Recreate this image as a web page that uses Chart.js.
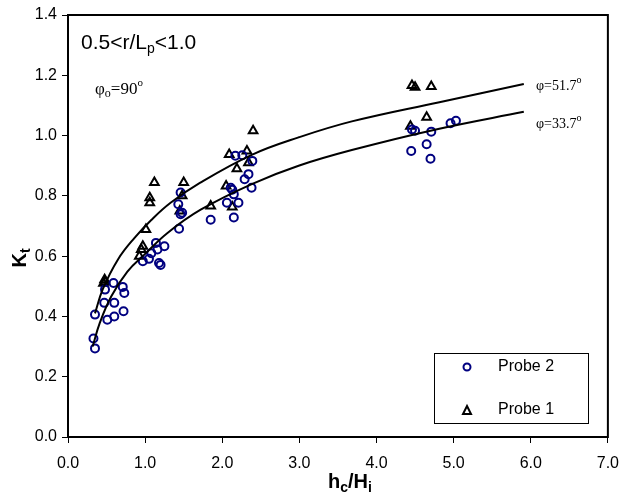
<!DOCTYPE html>
<html>
<head>
<meta charset="utf-8">
<script src="https://cdn.jsdelivr.net/npm/chart.js@4.4.1/dist/chart.umd.min.js"></script>
<style>
  html, body { margin: 0; padding: 0; background: #fff; }
  #wrap { width: 630px; height: 495px; }
</style>
</head>
<body>
<div id="wrap"><canvas id="kt"></canvas></div>
<script>
// Probe 2 (circles)
const probe2X = [0.35, 0.33, 0.35, 0.51, 0.60, 0.72, 0.47, 0.60, 0.48, 0.59, 0.71, 0.73,
  0.97, 1.05, 1.18, 1.20, 1.08, 1.14, 1.25, 1.16, 1.44, 1.46, 1.48, 1.43, 1.46,
  1.85, 2.17, 2.11, 2.15, 2.06, 2.21, 2.15, 2.39, 2.34, 2.29, 2.38, 2.13, 2.26,
  4.50, 4.71, 4.45, 4.65, 4.70, 4.96, 5.03, 4.46];
const probe2Y = [0.406, 0.327, 0.294, 0.389, 0.400, 0.417, 0.445, 0.445, 0.489, 0.511, 0.498, 0.478,
  0.583, 0.591, 0.577, 0.571, 0.610, 0.644, 0.633, 0.622, 0.691, 0.739, 0.744, 0.772, 0.811,
  0.721, 0.933, 0.827, 0.805, 0.777, 0.777, 0.728, 0.916, 0.872, 0.855, 0.827, 0.820, 0.935,
  1.016, 1.013, 0.949, 0.971, 0.923, 1.041, 1.049, 1.020];

// Probe 1 (triangles)
const probe1X = [0.46, 0.475, 0.48, 0.95, 0.97, 0.925, 1.01, 1.06, 1.06, 1.12, 1.50, 1.48, 1.45,
  1.85, 2.05, 2.13, 2.09, 2.32, 2.34, 2.19, 2.40, 4.46, 4.50, 4.71, 4.65, 4.44];
const probe1Y = [0.510, 0.522, 0.515, 0.622, 0.633, 0.600, 0.688, 0.777, 0.794, 0.844, 0.844, 0.800, 0.750,
  0.766, 0.833, 0.763, 0.937, 0.949, 0.910, 0.890, 1.016, 1.166, 1.160, 1.163, 1.061, 1.031];

// fitted curves
const curveUpX = [0.35, 0.45, 0.65, 0.86, 1.08, 1.33, 1.71, 2.39, 2.99, 3.68, 4.80, 5.91];
const curveUpY = [0.41, 0.49, 0.59, 0.66, 0.72, 0.777, 0.843, 0.937, 0.994, 1.047, 1.110, 1.171];
const curveLoX = [0.32, 0.41, 0.56, 0.77, 0.99, 1.29, 1.72, 2.39, 2.99, 3.68, 4.80, 5.91];
const curveLoY = [0.30, 0.377, 0.466, 0.549, 0.605, 0.677, 0.754, 0.840, 0.900, 0.952, 1.022, 1.079];

const toPts = (xs, ys) => xs.map((x, i) => ({ x: x, y: ys[i] }));

// draw a row of text pieces, each with its own font and vertical shift
function drawRuns(ctx, x, y, runs) {
  runs.forEach(r => {
    ctx.font = r.font;
    ctx.fillText(r.t, x, y + (r.dy || 0));
    x += ctx.measureText(r.t).width;
  });
  return x;
}
function runsWidth(ctx, runs) {
  let w = 0;
  runs.forEach(r => { ctx.font = r.font; w += ctx.measureText(r.t).width; });
  return w;
}

const extras = {
  id: 'extras',
  afterDraw(chart) {
    const ctx = chart.ctx;
    const a = chart.chartArea;
    ctx.save();
    // frame
    ctx.strokeStyle = '#000';
    ctx.lineWidth = 2;
    ctx.strokeRect(a.left, a.top, a.right - a.left, a.bottom - a.top);

    ctx.fillStyle = '#000';
    ctx.textBaseline = 'alphabetic';
    const sans = '"Liberation Sans", Arial, sans-serif';
    const serif = '"Liberation Serif", "Times New Roman", serif';

    drawRuns(ctx, 81, 49, [
      { t: '0.5<r/L', font: '21px ' + sans },
      { t: 'p', font: '14px ' + sans, dy: 4 },
      { t: '<1.0', font: '21px ' + sans }
    ]);
    drawRuns(ctx, 95, 94, [
      { t: 'φ', font: '17px ' + serif },
      { t: 'o', font: '12px ' + serif, dy: 3 },
      { t: '=90', font: '17px ' + serif },
      { t: 'o', font: '11px ' + serif, dy: -8 }
    ]);
    drawRuns(ctx, 536, 90, [
      { t: 'φ=51.7', font: '14px ' + serif },
      { t: 'o', font: '10px ' + serif, dy: -7 }
    ]);
    drawRuns(ctx, 536, 128, [
      { t: 'φ=33.7', font: '14px ' + serif },
      { t: 'o', font: '10px ' + serif, dy: -7 }
    ]);

    // axis titles
    const xt = [
      { t: 'h', font: 'bold 20px ' + sans },
      { t: 'c', font: 'bold 14px ' + sans, dy: 4 },
      { t: '/H', font: 'bold 20px ' + sans },
      { t: 'i', font: 'bold 14px ' + sans, dy: 4 }
    ];
    drawRuns(ctx, 350 - runsWidth(ctx, xt) / 2, 488, xt);

    ctx.save();
    ctx.translate(26, 258);
    ctx.rotate(-Math.PI / 2);
    const yt = [
      { t: 'K', font: 'bold 20px ' + sans },
      { t: 't', font: 'bold 14px ' + sans, dy: 4 }
    ];
    drawRuns(ctx, -runsWidth(ctx, yt) / 2, 0, yt);
    ctx.restore();

    // legend box
    ctx.lineWidth = 1;
    ctx.fillStyle = '#fff';
    ctx.fillRect(434.5, 353.5, 154, 70);
    ctx.strokeRect(434.5, 353.5, 154, 70);
    ctx.lineWidth = 2;
    ctx.strokeStyle = '#000080';
    ctx.beginPath();
    ctx.arc(467, 367, 3.5, 0, Math.PI * 2);
    ctx.stroke();
    ctx.strokeStyle = '#000';
    ctx.beginPath();
    ctx.moveTo(467, 406);
    ctx.lineTo(471, 414);
    ctx.lineTo(463, 414);
    ctx.closePath();
    ctx.stroke();
    ctx.fillStyle = '#000';
    ctx.font = '16px ' + sans;
    ctx.textBaseline = 'middle';
    ctx.fillText('Probe 2', 498, 367);
    ctx.fillText('Probe 1', 498, 410);
    ctx.restore();
  }
};

const ctx = document.getElementById('kt').getContext('2d');
const ktChart = new Chart(ctx, {
  type: 'scatter',
  data: {
    datasets: [
      {
        label: 'φ=51.7°',
        data: toPts(curveUpX, curveUpY),
        showLine: true,
        borderColor: '#000',
        borderWidth: 2,
        pointRadius: 0,
        tension: 0.4
      },
      {
        label: 'φ=33.7°',
        data: toPts(curveLoX, curveLoY),
        showLine: true,
        borderColor: '#000',
        borderWidth: 2,
        pointRadius: 0,
        tension: 0.4
      },
      {
        label: 'Probe 2',
        data: toPts(probe2X, probe2Y),
        pointStyle: 'circle',
        pointRadius: 4,
        borderColor: '#000080',
        borderWidth: 2,
        backgroundColor: 'rgba(0,0,0,0)'
      },
      {
        label: 'Probe 1',
        data: toPts(probe1X, probe1Y),
        pointStyle: 'triangle',
        pointRadius: 5,
        borderColor: '#000',
        borderWidth: 2,
        backgroundColor: 'rgba(0,0,0,0)'
      }
    ]
  },
  options: {
    responsive: true,
    maintainAspectRatio: false,
    animation: false,
    layout: { padding: { top: 15, right: 20, left: 0, bottom: 0 } },
    plugins: { legend: { display: false }, tooltip: { enabled: false } },
    scales: {
      x: {
        min: 0, max: 7,
        afterFit: s => { s.height = 58; },
        ticks: {
          stepSize: 1,
          padding: 11,
          color: '#000',
          font: { family: '"Liberation Sans", Arial, sans-serif', size: 16 },
          callback: v => v.toFixed(1)
        },
        grid: { drawOnChartArea: false, color: '#000', tickLength: 6 },
        border: { color: '#000', width: 2 }
      },
      y: {
        min: 0, max: 1.4,
        afterFit: s => { s.width = 68; },
        ticks: {
          stepSize: 0.2,
          padding: 5,
          color: '#000',
          font: { family: '"Liberation Sans", Arial, sans-serif', size: 16 },
          callback: v => v.toFixed(1)
        },
        grid: { drawOnChartArea: false, color: '#000', tickLength: 6 },
        border: { color: '#000', width: 2 }
      }
    }
  },
  plugins: [extras]
});
</script>
</body>
</html>
